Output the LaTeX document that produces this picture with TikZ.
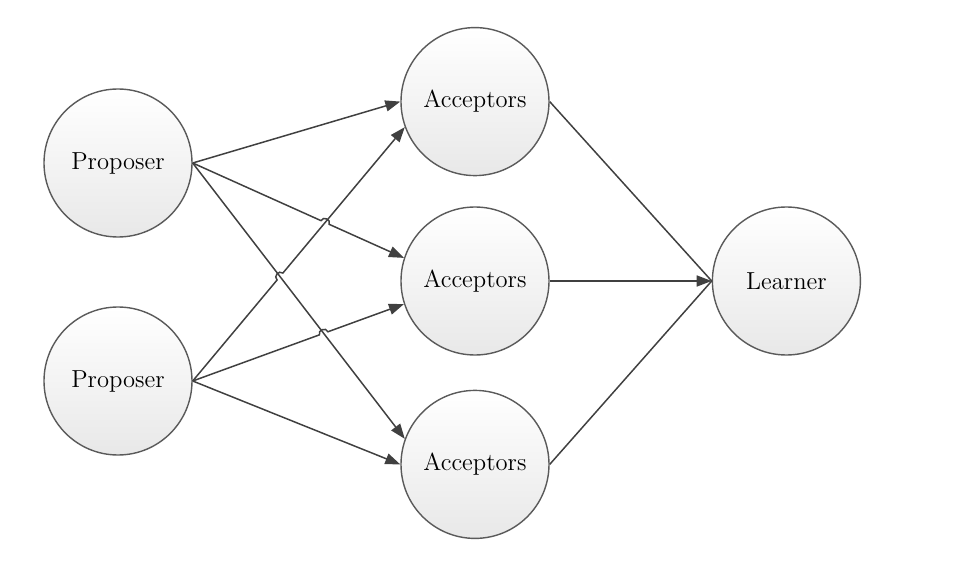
\documentclass[tikz,border=0pt]{standalone}
\usepackage{tikz}
\usetikzlibrary{arrows.meta,positioning,calc,intersections}
\definecolor{edgegray}{HTML}{404040}
\definecolor{ringgray}{HTML}{5A5A5A}

\begin{document}
\begin{tikzpicture}[
    node distance=0.6cm,
    agent/.style={circle, draw=ringgray, line width=0.8pt, top color=white, bottom color=black!9,
                minimum size=2.96cm, inner sep=0pt, font=\fontsize{14}{16}\selectfont},
    link/.style={draw=edgegray, line width=0.85pt},
    arr/.style={link, -{Triangle[length=3mm,width=2.2mm]}},
    hop/.style={bend left=90, looseness=1.5}
]
    \useasboundingbox (0,0) rectangle (19.36,-11.52);

    \node[agent] (prop1) at (2.36,-3.26) {Proposer};
    \node[agent] (prop2) at (2.36,-7.62) {Proposer};
    \node[agent] (acc2) at (9.5,-5.62) {Acceptors};
    \node[agent, above=0.6cm of acc2] (acc1) {Acceptors};
    \node[agent, below=0.68cm of acc2] (acc3) {Acceptors};
    \node[agent, right=3.24cm of acc2] (learner) {Learner};

    % where the crossing lines meet
    \path[name path=p1a2] (prop1.east) -- (acc2.162);
    \path[name path=p1a3] (prop1.east) -- (acc3.160);
    \path[name path=p2a1] (prop2.east) -- (acc1.200);
    \path[name path=p2a2] (prop2.east) -- (acc2.198);
    \path[name intersections={of=p1a2 and p2a1, by=cx1}];
    \path[name intersections={of=p2a1 and p1a3, by=cx2}];
    \path[name intersections={of=p2a2 and p1a3, by=cx3}];

    % proposers to acceptors
    \draw[arr] (prop1.east) -- (acc1.west);
    \draw[arr] (prop1.east) -- ($(cx1)!0.09cm!(prop1.east)$) to[hop] ($(cx1)!0.09cm!(acc2.162)$) -- (acc2.162);
    \draw[arr] (prop1.east) -- (acc3.160);
    \draw[arr] (prop2.east) -- ($(cx2)!0.09cm!(prop2.east)$) to[hop] ($(cx2)!0.09cm!(acc1.200)$) -- (acc1.200);
    \draw[arr] (prop2.east) -- ($(cx3)!0.09cm!(prop2.east)$) to[hop] ($(cx3)!0.09cm!(acc2.198)$) -- (acc2.198);
    \draw[arr] (prop2.east) -- (acc3.west);

    % acceptors to learner
    \draw[link] (acc1.east) -- (learner.west);
    \draw[arr] (acc2.east) -- (learner.west);
    \draw[link] (acc3.east) -- (learner.west);
\end{tikzpicture}
\end{document}
